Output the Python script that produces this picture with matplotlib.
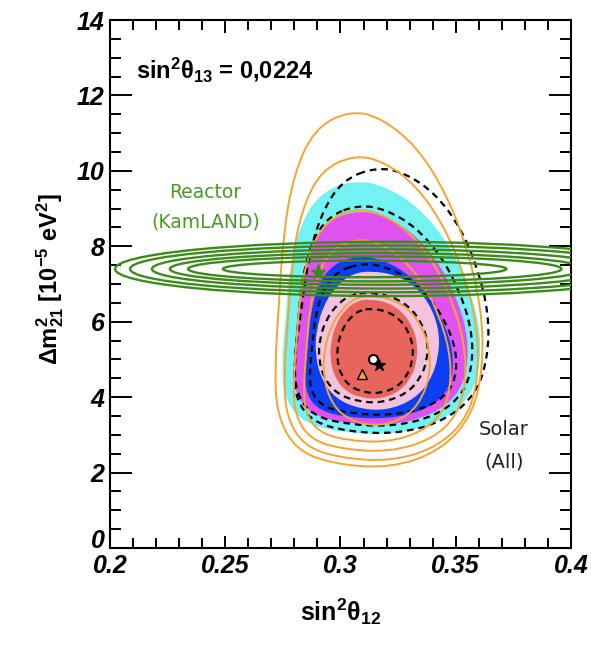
import numpy as np
import matplotlib
matplotlib.use('Agg')
import matplotlib.pyplot as plt
import matplotlib.transforms as mtransforms
from matplotlib.path import Path
from matplotlib.patches import PathPatch, Ellipse
from matplotlib.ticker import MultipleLocator

plt.rcParams['font.family'] = ['Liberation Sans', 'DejaVu Sans']
plt.rcParams['mathtext.fontset'] = 'custom'
plt.rcParams['mathtext.rm'] = 'Liberation Sans'
plt.rcParams['mathtext.it'] = 'Liberation Sans:italic'
plt.rcParams['mathtext.bf'] = 'Liberation Sans:bold'

# outline of the outer solar contour, normalised to its bounding box
egg_u = [0.36, 0.51, 0.68, 0.82, 0.92, 0.99, 1.00, 0.95, 0.80, 0.56, 0.29, 0.10, 0.01, 0.00, 0.02, 0.04, 0.09, 0.19]
egg_v = [1.00, 0.98, 0.90, 0.77, 0.62, 0.45, 0.29, 0.15, 0.05, 0.00, 0.01, 0.05, 0.15, 0.28, 0.46, 0.65, 0.82, 0.95]
# rounder outline of the innermost contours
oval_u = [0.45, 0.65, 0.82, 0.94, 1.00, 0.99, 0.93, 0.80, 0.58, 0.36, 0.17, 0.05, 0.00, 0.01, 0.07, 0.18, 0.30]
oval_v = [1.00, 0.97, 0.88, 0.73, 0.55, 0.38, 0.22, 0.08, 0.00, 0.01, 0.08, 0.22, 0.40, 0.58, 0.76, 0.90, 0.98]

# filled regions (outer -> inner): left, right, bottom, top of each region
fill_colors = ['#72f2f2', '#e052f0', '#0c3ff2', '#f3c3dd', '#e8655c']
fill_left = [0.2745, 0.2795, 0.2845, 0.2890, 0.2955]
fill_right = [0.3610, 0.3555, 0.3490, 0.3430, 0.3335]
fill_bottom = [3.00, 3.25, 3.42, 3.65, 3.95]
fill_top = [9.75, 8.95, 7.75, 7.35, 6.60]
fill_round = [False, False, False, True, True]

# dashed black contours
dash_left = [0.2780, 0.2800, 0.2865, 0.2905, 0.2985]
dash_right = [0.3620, 0.3575, 0.3505, 0.3380, 0.3315]
dash_bottom = [3.02, 3.22, 3.52, 3.85, 4.10]
dash_top = [10.10, 9.10, 7.55, 6.78, 6.35]
dash_shift = [0.007, 0.0, 0.0, 0.0, 0.0]
dash_round = [False, False, False, True, True]

# solar (all) orange contours
sol_left = [0.2715, 0.2755, 0.2795, 0.2840, 0.2925]
sol_right = [0.3620, 0.3600, 0.3545, 0.3480, 0.3390]
sol_bottom = [2.12, 2.30, 2.55, 2.80, 3.25]
sol_top = [11.60, 10.42, 9.00, 8.20, 6.70]
sol_round = [False, False, False, False, True]

# KamLAND ellipses: centre and full widths
kl_cx = [0.3202, 0.3197, 0.3182, 0.3160, 0.3149, 0.3105]
kl_cy = [7.40, 7.40, 7.40, 7.40, 7.40, 7.40]
kl_w = [0.236, 0.222, 0.200, 0.180, 0.162, 0.123]
kl_h = [1.44, 1.24, 1.04, 0.84, 0.66, 0.44]

# best fit points
bf_global = (0.3142, 5.00)
bf_star = (0.3165, 4.85)
bf_solar = (0.3095, 4.62)
bf_kamland = (0.2904, 7.33)

x_ticks = [0.2, 0.25, 0.3, 0.35, 0.4]
x_tick_labels = ['0.2', '0.25', '0.3', '0.35', '0.4']
y_ticks = [0, 2, 4, 6, 8, 10, 12, 14]


def egg_path(left, right, bottom, top, rounder=False, shift=0.0):
    u = np.array(oval_u if rounder else egg_u)
    v = np.array(oval_v if rounder else egg_v)
    x = left + u * (right - left) + shift * v
    y = bottom + v * (top - bottom)
    pts = np.column_stack([x, y])
    mids = (pts + np.roll(pts, -1, axis=0)) / 2
    verts = [mids[-1]]
    codes = [Path.MOVETO]
    for p, m in zip(pts, mids):
        verts += [p, m]
        codes += [Path.CURVE3, Path.CURVE3]
    return Path(verts, codes)


fig = plt.figure(figsize=(5.91, 6.46), dpi=100)
ax = fig.add_axes([0.1861, 0.1517, 0.7800, 0.8173])

for c, l, r, b, t, rd in zip(fill_colors, fill_left, fill_right, fill_bottom, fill_top, fill_round):
    ax.add_patch(PathPatch(egg_path(l, r, b, t, rd), facecolor=c, edgecolor='none', zorder=1))

for l, r, b, t, rd, sh in zip(dash_left, dash_right, dash_bottom, dash_top, dash_round, dash_shift):
    ax.add_patch(PathPatch(egg_path(l, r, b, t, rd, sh), facecolor='none', edgecolor='black',
                           lw=1.6, linestyle=(0, (3, 2.2)), zorder=2))

for l, r, b, t, rd in zip(sol_left, sol_right, sol_bottom, sol_top, sol_round):
    ax.add_patch(PathPatch(egg_path(l, r, b, t, rd), facecolor='none', edgecolor='#f2a535',
                           lw=1.4, zorder=3))

for cx, cy, w, h in zip(kl_cx, kl_cy, kl_w, kl_h):
    ax.add_patch(Ellipse((cx, cy), w, h, facecolor='none', edgecolor='#3d8a1c', lw=1.7, zorder=4))

ax.plot(*bf_kamland, marker='*', ms=11, color='#3d8a1c', zorder=5)
ax.plot(*bf_star, marker='*', ms=9, color='black', zorder=5)
ax.plot(*bf_global, marker='o', ms=6.5, mfc='white', mec='black', mew=1.5, zorder=6)
ax.plot(*bf_solar, marker='^', ms=7, mfc='#f2a535', mec='black', mew=1.0, zorder=6)

ax.text(0.2115, 12.7, r'$\mathbf{sin^2\theta_{13}}$ = 0,0224', fontsize=17, fontweight='bold',
        va='center', ha='left')
ax.text(0.2414, 9.42, 'Reactor', color='#4a9a2a', fontsize=13.5, family='DejaVu Sans',
        ha='center', va='center')
ax.text(0.2414, 8.65, '(KamLAND)', color='#4a9a2a', fontsize=13.5, family='DejaVu Sans',
        ha='center', va='center')
ax.text(0.371, 3.13, 'Solar', color='#222222', fontsize=14, family='DejaVu Sans',
        ha='center', va='center')
ax.text(0.371, 2.28, '(All)', color='#222222', fontsize=14, family='DejaVu Sans',
        ha='center', va='center')

ax.set_xlim(0.2, 0.4)
ax.set_ylim(0, 14)
ax.set_xticks(x_ticks)
ax.set_xticklabels(x_tick_labels)
ax.set_yticks(y_ticks)
ax.xaxis.set_minor_locator(MultipleLocator(0.01))
ax.yaxis.set_minor_locator(MultipleLocator(0.5))
ax.tick_params(which='both', direction='in', top=True, right=True, width=1.4, labelsize=18, pad=4)
ax.tick_params(axis='x', which='major', length=9)
ax.tick_params(axis='x', which='minor', length=7)
ax.tick_params(axis='y', which='major', length=16)
ax.tick_params(axis='y', which='minor', length=8)
for lab in ax.get_xticklabels() + ax.get_yticklabels():
    lab.set_fontstyle('italic')
    lab.set_fontweight('bold')
for s in ax.spines.values():
    s.set_linewidth(1.5)

# the "0" of the y axis sits a little above its tick, as in the original
zero_lab = ax.get_yticklabels()[0]
zero_lab.set_transform(zero_lab.get_transform() +
                       mtransforms.ScaledTranslation(0, 7 / 72, fig.dpi_scale_trans))

ax.set_xlabel(r'$\mathbf{sin^2\theta_{12}}$', fontsize=18)
ax.xaxis.set_label_coords(0.5, -0.121)
ax.xaxis.label.set_va('center')
ax.set_ylabel(r'$\mathbf{\Delta m^2_{21}}$ [10$^{\mathbf{-5}}$ eV$^{\mathbf{2}}$]', fontsize=17,
              fontweight='bold')
ax.yaxis.set_label_coords(-0.13, 0.51)
ax.yaxis.label.set_va('center')

fig.savefig('out.png', dpi=100)
